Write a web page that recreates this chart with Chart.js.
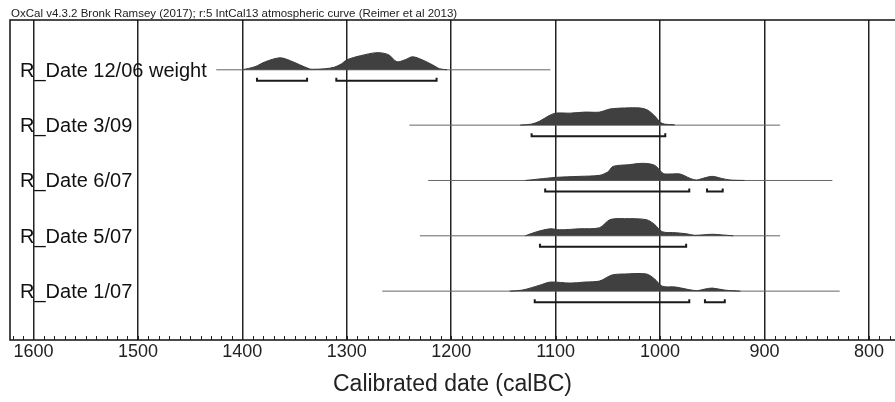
<!DOCTYPE html>
<html lang="en">
<head>
  <meta charset="UTF-8">
  <title>OxCal multiplot</title>
  <script src="https://cdn.jsdelivr.net/npm/chart.js@4.4.0/dist/chart.umd.min.js"></script>
  <style>
    body { margin: 0; background: #fff; }
    #wrap { width: 895px; height: 402px; }
    canvas { display: block; }
  </style>
</head>
<body>
<div id="wrap"><canvas id="chart" width="895" height="402"></canvas></div>

<script>
  // samples, top row first
  const sampleNames = ['R_Date 12/06 weight', 'R_Date 3/09', 'R_Date 6/07', 'R_Date 5/07', 'R_Date 1/07'];

  // thin line showing the full extent of each distribution (calBC)
  const extentStart = [1425, 1240, 1222, 1230, 1266];
  const extentEnd = [1105, 885, 835, 885, 828];

  // probability curves: years (calBC) and relative density (peak = 100)
  const distYears = [
    [1400, 1388, 1378, 1364, 1354, 1345, 1336, 1333, 1321, 1312, 1305, 1300, 1287, 1271, 1260, 1252, 1244, 1237, 1228, 1218, 1211, 1204],
    [1134, 1123, 1115, 1107, 1100, 1086, 1072, 1058, 1048, 1034, 1019, 1012, 1005, 1000, 996, 986],
    [1129, 1115, 1100, 1077, 1058, 1050, 1045, 1030, 1016, 1005, 997, 990, 981, 971, 965, 958, 950, 941, 933, 919],
    [1129, 1118, 1105, 1096, 1077, 1058, 1048, 1034, 1013, 1005, 998, 985, 975, 967, 958, 950, 940, 930],
    [1144, 1132, 1115, 1105, 1086, 1072, 1058, 1046, 1034, 1013, 1005, 998, 985, 975, 965, 957, 950, 938, 923]
  ];
  const distDensity = [
    [0, 18, 47, 70, 53, 29, 6, 3, 6, 15, 35, 58, 82, 100, 88, 47, 59, 76, 59, 29, 6, 0],
    [0, 6, 24, 53, 70, 70, 76, 76, 94, 100, 100, 88, 53, 18, 6, 2],
    [0, 9, 18, 24, 30, 50, 82, 92, 100, 88, 41, 38, 38, 12, 3, 14, 24, 12, 3, 0],
    [0, 24, 41, 35, 41, 47, 94, 100, 94, 65, 24, 18, 12, 3, 6, 9, 5, 0],
    [0, 6, 35, 53, 47, 53, 59, 94, 100, 100, 70, 29, 24, 12, 3, 12, 18, 6, 0]
  ];

  // highest posterior density ranges (calBC), one list of [from, to] per row
  const hpdRanges = [
    [[1386, 1338], [1310, 1214]],
    [[1123, 995]],
    [[1110, 972], [955, 940]],
    [[1115, 975]],
    [[1120, 972], [957, 938]]
  ];

  const tickYears = [1600, 1500, 1400, 1300, 1200, 1100, 1000, 900, 800];
  const headerText = 'OxCal v4.3.2 Bronk Ramsey (2017); r:5 IntCal13 atmospheric curve (Reimer et al 2013)';
  const axisTitle = 'Calibrated date (calBC)';

  const ROWS = sampleNames.length;
  const PEAK = 0.31;     // curve height in row units
  const BAR_DROP = 0.2;  // range bar below baseline
  const BAR_END = 0.055;
  const rowY = i => ROWS - i;

  const datasets = [];
  sampleNames.forEach((name, i) => {
    const base = rowY(i);
    datasets.push({
      data: distYears[i].map((yr, k) => ({ x: yr, y: base + distDensity[i][k] / 100 * PEAK })),
      showLine: true,
      borderColor: '#3a3a3a',
      borderWidth: 1,
      backgroundColor: '#404040',
      fill: { value: base },
      tension: 0.3,
      pointRadius: 0
    });
    datasets.push({
      data: [{ x: extentStart[i], y: base }, { x: extentEnd[i], y: base }],
      showLine: true,
      borderColor: '#666',
      borderWidth: 1,
      pointRadius: 0
    });
    hpdRanges[i].forEach(r => {
      const yb = base - BAR_DROP;
      datasets.push({
        data: [{ x: r[0], y: yb + BAR_END }, { x: r[0], y: yb }, { x: r[1], y: yb }, { x: r[1], y: yb + BAR_END }],
        showLine: true,
        borderColor: '#1a1a1a',
        borderWidth: 2,
        pointRadius: 0
      });
    });
  });

  const decor = {
    id: 'decor',
    afterDraw(chart) {
      const ctx = chart.ctx;
      const a = chart.chartArea;
      const xs = chart.scales.x, ys = chart.scales.y;
      ctx.save();
      // frame (right side falls outside the picture)
      ctx.strokeStyle = '#111';
      ctx.lineWidth = 1.5;
      ctx.beginPath();
      ctx.moveTo(chart.width, a.top);
      ctx.lineTo(a.left, a.top);
      ctx.lineTo(a.left, a.bottom);
      ctx.lineTo(chart.width, a.bottom);
      ctx.stroke();
      // minor ticks every 10 years
      ctx.lineWidth = 1;
      ctx.strokeStyle = '#222';
      ctx.beginPath();
      for (let yr = Math.floor(xs.max / 10) * 10; yr >= xs.min; yr -= 10) {
        const px = Math.round(xs.getPixelForValue(yr)) + 0.5;
        ctx.moveTo(px, a.bottom);
        ctx.lineTo(px, a.bottom - 4);
      }
      ctx.stroke();
      // header
      ctx.fillStyle = '#222';
      ctx.font = '11.5px "Liberation Sans", Arial, sans-serif';
      ctx.textBaseline = 'alphabetic';
      ctx.fillText(headerText, a.left + 1, a.top - 3);
      // sample names
      ctx.fillStyle = '#111';
      ctx.font = '20px "Liberation Sans", Arial, sans-serif';
      sampleNames.forEach((name, i) => {
        ctx.fillText(name, 20, ys.getPixelForValue(rowY(i)) + 7);
      });
      ctx.restore();
    }
  };

  new Chart(document.getElementById('chart'), {
    type: 'scatter',
    data: { datasets },
    options: {
      responsive: false,
      animation: false,
      events: [],
      layout: { padding: { left: 10, top: 20, right: 0, bottom: 0 } },
      plugins: { legend: { display: false }, tooltip: { enabled: false } },
      scales: {
        x: {
          type: 'linear',
          reverse: true,
          min: 775,
          max: 1622.5,
          afterBuildTicks: s => { s.ticks = tickYears.map(v => ({ value: v })); },
          ticks: {
            autoSkip: false,
            maxRotation: 0,
            padding: 1,
            color: '#222',
            font: { family: '"Liberation Sans", Arial, sans-serif', size: 18 },
            callback: v => String(v)
          },
          grid: { color: '#222', lineWidth: 1.5, drawTicks: false },
          border: { display: false },
          title: {
            display: true,
            text: axisTitle,
            color: '#222',
            font: { family: '"Liberation Sans", Arial, sans-serif', size: 23 },
            padding: { top: 7.6, bottom: 3.2 }
          }
        },
        y: {
          display: false,
          min: 0.117,
          max: 5.9
        }
      }
    },
    plugins: [decor]
  });
</script>
</body>
</html>
